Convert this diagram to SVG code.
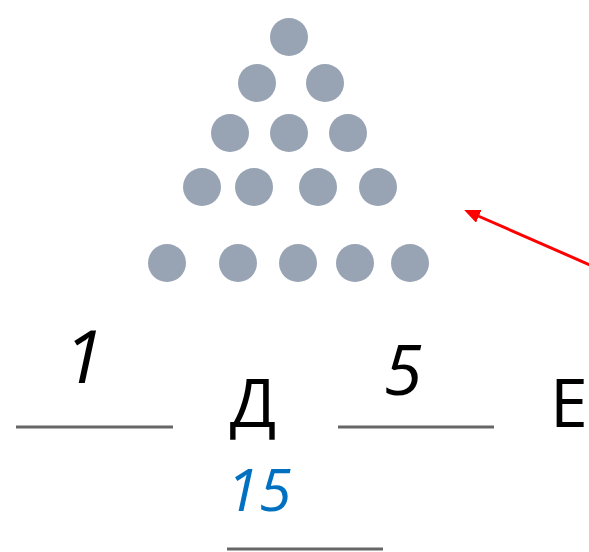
<svg xmlns="http://www.w3.org/2000/svg" width="589" height="552" viewBox="0 0 589 552">
<style>
.dot{fill:#98A3B4}
.ln{stroke:#666;stroke-width:3}
.t{font-family:"Open Sans","Liberation Sans",Arial,sans-serif;fill:#000}
.i{font-style:italic}
</style>
<defs>
<marker id="ah" markerWidth="16" markerHeight="14" refX="2" refY="7" orient="auto" markerUnits="userSpaceOnUse">
<path d="M0,0 L16,7 L0,14 Z" fill="#f00"/>
</marker>
</defs>
<rect width="589" height="552" fill="#fff"/>
<g id="dots">
<circle class="dot" cx="289" cy="37" r="19"/>
<circle class="dot" cx="257" cy="83" r="19"/>
<circle class="dot" cx="325" cy="83" r="19"/>
<circle class="dot" cx="230" cy="133" r="19"/>
<circle class="dot" cx="289" cy="133" r="19"/>
<circle class="dot" cx="348" cy="133" r="19"/>
<circle class="dot" cx="202" cy="187" r="19"/>
<circle class="dot" cx="254" cy="187" r="19"/>
<circle class="dot" cx="318" cy="187" r="19"/>
<circle class="dot" cx="378" cy="187" r="19"/>
<circle class="dot" cx="167" cy="263" r="19"/>
<circle class="dot" cx="238" cy="263" r="19"/>
<circle class="dot" cx="298" cy="263" r="19"/>
<circle class="dot" cx="355" cy="263" r="19"/>
<circle class="dot" cx="410" cy="263" r="19"/>
</g>
<g id="connectors">
<line x1="590" y1="265" x2="477" y2="215.5" stroke="#f00" stroke-width="3" marker-end="url(#ah)"/>
</g>
<g id="lines">
<line class="ln" x1="16" y1="427" x2="173" y2="427"/>
<line class="ln" x1="338" y1="427" x2="494" y2="427"/>
<line class="ln" x1="227" y1="549" x2="383" y2="549"/>
</g>
<g id="labels">
<text class="t i" x="84" y="383" font-size="74" text-anchor="middle">1</text>
<text class="t i" x="403" y="395" font-size="70" text-anchor="middle">5</text>
<text class="t" x="253" y="427" font-size="68" text-anchor="middle">Д</text>
<text class="t" x="550" y="427" font-size="68">Е</text>
<text class="t i" x="259" y="511" font-size="59" text-anchor="middle" style="fill:#0070C0">15</text>
</g>
</svg>
